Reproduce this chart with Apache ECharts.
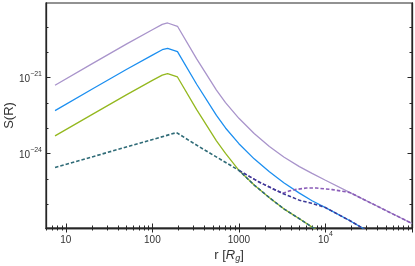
<!DOCTYPE html>
<html><head><meta charset="utf-8">
<script src="https://cdn.jsdelivr.net/npm/echarts@6/dist/echarts.min.js"></script>
<style>html,body{margin:0;padding:0;background:#fff}#c{width:415px;height:266px}</style>
</head><body><div id="c"></div>
<script>
// radius values r [R_g]
const rSolid = [7.5, 20, 50, 100, 130, 150, 195, 325, 550, 700, 1000, 1500, 2250, 3300, 5000, 7000, 10000, 19000, 42000, 100000];
const purpleS = [5.0e-22, 3.47e-21, 2.09e-20, 7.76e-20, 1.26e-19, 1.43e-19, 1.06e-19, 5.46e-21, 3.21e-22, 1.03e-22, 2.47e-23, 6.22e-24, 1.92e-24, 7.36e-25, 3.08e-25, 1.66e-25, 8.87e-26, 2.94e-26, 7.64e-27, 1.75e-27];
const rBlue = [7.5, 20, 50, 100, 130, 150, 195, 325, 550, 700, 1000, 1500, 2250, 3300, 5000, 7000, 10000, 19000, 42000];
const blueS = [5.0e-23, 3.47e-22, 2.09e-21, 7.76e-21, 1.26e-20, 1.43e-20, 1.06e-20, 5.46e-22, 3.21e-23, 1.03e-23, 2.47e-24, 6.22e-25, 1.92e-25, 7.08e-26, 2.75e-26, 1.38e-26, 7.41e-27, 2.29e-27, 4.68e-28];
const rGreen = [7.5, 20, 50, 100, 130, 150, 195, 325, 550, 700, 1000, 1500, 2250, 3300, 5000, 7000, 10000];
const greenS = [5.0e-24, 3.47e-23, 2.09e-22, 7.76e-22, 1.26e-21, 1.43e-21, 1.06e-21, 5.46e-23, 3.21e-24, 1.03e-24, 2.19e-25, 5.75e-26, 1.82e-26, 6.61e-27, 2.69e-27, 1.26e-27, 6.31e-28];
const rTeal = [7.5, 190, 352, 1000, 1500, 2250, 3300, 5000, 7000, 10000];
const tealS = [2.82e-25, 6.76e-24, 1.82e-24, 2.19e-25, 5.75e-26, 1.82e-26, 6.61e-27, 2.69e-27, 1.26e-27, 6.31e-28];
const rNavy = [1000, 1730, 3190, 5000, 6900, 9000, 10000, 19000, 42000];
const navyS = [2.19e-25, 7.41e-26, 2.69e-26, 1.45e-26, 1.10e-26, 8.32e-27, 7.41e-27, 2.29e-27, 4.68e-28];
const rViolet = [1000, 1730, 3190, 3850, 4630, 6040, 7870, 12000, 19000, 42000, 100000];
const violetS = [2.19e-25, 7.41e-26, 2.69e-26, 3.39e-26, 3.89e-26, 4.37e-26, 4.37e-26, 3.80e-26, 2.94e-26, 7.64e-27, 1.75e-27];

// ticks
const xLabelTicks = [10, 100, 1000, 10000];
const xMajorTicks = [10, 100, 1000, 10000, 100000];
const xMinorTicks = [6,7,8,9,20,30,40,50,60,70,80,90,200,300,400,500,600,700,800,900,2000,3000,4000,5000,6000,7000,8000,9000,20000,30000,40000,50000,60000,70000,80000,90000];
const yLabelTicks = [1e-24, 1e-21];
const yMinorTicks = [1e-26, 1e-25, 1e-23, 1e-22, 1e-20, 1e-19];

const X_MIN = 5.9, X_MAX = 1e5, Y_MIN = 1.16e-27, Y_MAX = 8.8e-19;
const pairs = (xs, ys) => xs.map((x, i) => [x, ys[i]]);
const FONT = 'Liberation Sans';
const AX = '#262626';
const rich = {
  m: {fontSize: 10, fontFamily: FONT, color: '#333', lineHeight: 14, verticalAlign: 'bottom'},
  s: {fontSize: 7, fontFamily: FONT, color: '#333', lineHeight: 14, verticalAlign: 'top', padding: [0,0,5,0]}
};
function xFmt(v) {
  const e = Math.round(Math.log10(v));
  return e < 4 ? '{m|' + Math.pow(10, e) + '}' : '{m|10}{s|' + e + '}';
}
function yFmt(v) {
  const e = Math.round(Math.log10(v));
  return '{m|10}{s|\u2212' + (-e) + '}';
}
function xAx(grid, pos, major, withLabel) {
  return {
    gridIndex: grid, type: 'log', logBase: 10, min: X_MIN, max: X_MAX, position: pos,
    axisLine: {show: major, lineStyle: {color: AX, width: 1.3}},
    splitLine: {show: false}, minorTick: {show: false},
    axisTick: {show: true, inside: true, length: major ? 4.5 : 2.5, lineStyle: {color: AX, width: 1},
      customValues: major ? xMajorTicks : xMinorTicks},
    axisLabel: withLabel ? {show: true, customValues: xLabelTicks, formatter: xFmt, rich: rich, margin: 3} : {show: false},
    name: withLabel ? 'r [{i|R}{sub|g}]' : '',
    nameLocation: 'middle', nameGap: 20, nameMoveOverlap: false,
    nameTextStyle: {fontFamily: FONT, fontSize: 13, color: '#333',
      rich: {i: {fontStyle: 'italic', fontSize: 13, fontFamily: FONT, color: '#333'},
             sub: {fontStyle: 'italic', fontSize: 9, fontFamily: FONT, color: '#333', padding: [6,0,0,0]}}}
  };
}
function yAx(grid, pos, major, withLabel) {
  return {
    gridIndex: grid, type: 'log', logBase: 10, min: Y_MIN, max: Y_MAX, position: pos,
    axisLine: {show: major, lineStyle: {color: AX, width: 1.3}},
    splitLine: {show: false}, minorTick: {show: false},
    axisTick: {show: true, inside: true, length: major ? 4.5 : 2.5, lineStyle: {color: AX, width: 1},
      customValues: major ? yLabelTicks : yMinorTicks},
    axisLabel: withLabel ? {show: true, customValues: yLabelTicks, formatter: yFmt, rich: rich, margin: 4} : {show: false},
    name: withLabel ? 'S(R)' : '',
    nameLocation: 'middle', nameGap: 30, nameRotate: 90, nameMoveOverlap: false,
    nameTextStyle: {fontFamily: FONT, fontSize: 13, color: '#333'}
  };
}
function line(xs, ys, color, dashed, z) {
  return {
    type: 'line', xAxisIndex: 0, yAxisIndex: 0, data: pairs(xs, ys),
    showSymbol: false, symbol: 'none', clip: true, z: z,
    lineStyle: {color: color, width: dashed ? 1.6 : 1.3, type: dashed ? [3.5, 2] : 'solid'}
  };
}
const G = {left: 46, right: 3, top: 3, bottom: 38, outerBoundsMode: 'none', containLabel: false};
const chart = echarts.init(document.getElementById('c'), null, {renderer: 'canvas'});
chart.setOption({
  animation: false,
  backgroundColor: '#fff',
  grid: [Object.assign({show: true, borderColor: AX, borderWidth: 1.2, backgroundColor: 'transparent'}, G), Object.assign({}, G)],
  xAxis: [xAx(0, 'bottom', true, true), xAx(0, 'top', true, false), xAx(1, 'bottom', false, false), xAx(1, 'top', false, false)],
  yAxis: [yAx(0, 'left', true, true), yAx(0, 'right', true, false), yAx(1, 'left', false, false), yAx(1, 'right', false, false)],
  series: [
    line(rSolid, purpleS, '#a994cb', false, 2),
    line(rBlue, blueS, '#1c8ff0', false, 2),
    line(rGreen, greenS, '#94b81f', false, 2),
    line(rViolet, violetS, '#8a5cb8', true, 3),
    line(rNavy, navyS, '#3c3a98', true, 4),
    line(rTeal, tealS, '#2f6b77', true, 5)
  ]
});
</script>
</body></html>
